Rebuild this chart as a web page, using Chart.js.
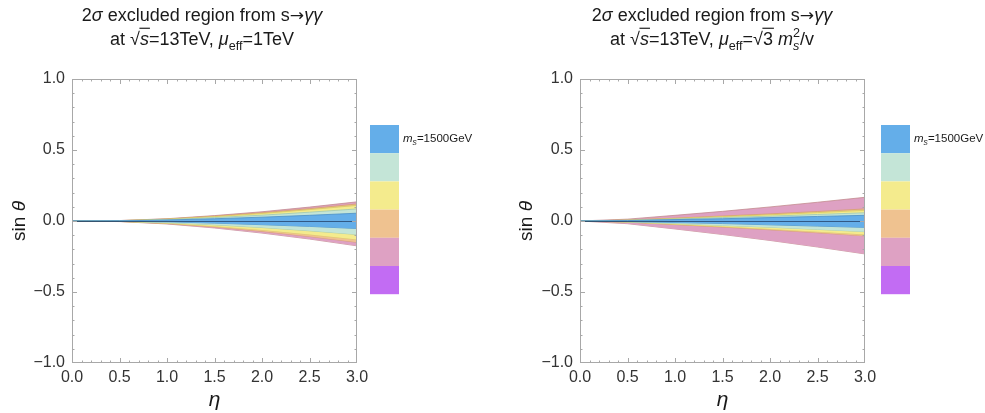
<!DOCTYPE html>
<html>
<head>
<meta charset="utf-8">
<script src="https://cdn.jsdelivr.net/npm/chart.js@4.4.1/dist/chart.umd.min.js"></script>
<style>
  html, body { margin: 0; padding: 0; background: #fff; }
  #wrap { position: relative; width: 985px; height: 413px; }
  canvas { position: absolute; top: 0; }
  #left { left: 0; }
  #right { left: 490px; }
</style>
</head>
<body>
<div id="wrap">
  <canvas id="left" width="490" height="413"></canvas>
  <canvas id="right" width="495" height="413"></canvas>
</div>
<script>
const eta = [0, 0.5, 1.0, 1.5, 2.0, 2.5, 3.0];
const xTicks = [0, 0.5, 1.0, 1.5, 2.0, 2.5, 3.0];
const yTicks = [-1.0, -0.5, 0.0, 0.5, 1.0];
const legendLabel = "1500GeV";

// mu_eff = 1 TeV : upper / lower edge of each excluded band
const fixBlueHi   = [0, 0.001, 0.007, 0.016, 0.027, 0.040, 0.055];
const fixBlueLo   = [0, -0.001, -0.006, -0.015, -0.026, -0.038, -0.053];
const fixMintHi   = [0, 0.002, 0.010, 0.024, 0.041, 0.062, 0.085];
const fixMintLo   = [0, -0.002, -0.012, -0.027, -0.046, -0.069, -0.095];
const fixYellowHi = [0, 0.002, 0.013, 0.031, 0.053, 0.080, 0.110];
const fixYellowLo = [0, -0.003, -0.016, -0.037, -0.063, -0.095, -0.130];
const fixOrangeHi = [0, 0.003, 0.014, 0.034, 0.058, 0.087, 0.120];
const fixOrangeLo = [0, -0.003, -0.018, -0.042, -0.073, -0.109, -0.150];
const fixPinkHi   = [0, 0.003, 0.016, 0.038, 0.065, 0.098, 0.135];
const fixPinkLo   = [0, -0.004, -0.021, -0.049, -0.085, -0.127, -0.175];

// mu_eff = sqrt(3) m_s^2 / v
const scaBlueHi   = [0, 0.003, 0.010, 0.016, 0.024, 0.032, 0.040];
const scaBlueLo   = [0, -0.004, -0.011, -0.018, -0.027, -0.036, -0.045];
const scaMintHi   = [0, 0.005, 0.014, 0.024, 0.034, 0.046, 0.058];
const scaMintLo   = [0, -0.006, -0.018, -0.031, -0.044, -0.059, -0.075];
const scaYellowHi = [0, 0.006, 0.018, 0.031, 0.044, 0.059, 0.075];
const scaYellowLo = [0, -0.008, -0.023, -0.039, -0.056, -0.075, -0.095];
const scaOrangeHi = [0, 0.007, 0.020, 0.035, 0.050, 0.067, 0.085];
const scaOrangeLo = [0, -0.008, -0.025, -0.043, -0.062, -0.083, -0.105];
const scaPinkHi   = [0, 0.013, 0.040, 0.068, 0.099, 0.132, 0.167];
const scaPinkLo   = [0, -0.019, -0.056, -0.095, -0.137, -0.183, -0.232];

const FONT = '"Liberation Sans", Arial, Helvetica, sans-serif';
const fills = ["#64aee9", "#c4e5d7", "#f4eb8d", "#efc290", "#dea1c3", "#c26cf3"];
const edges = ["#4a8fc6", "#9cc8b6", "#d8cb62", "#d5a06c", "#c38a8e", "#a050d0"];

// draws a line of text made of styled pieces (italic, sub/superscript, overline)
function drawRuns(ctx, runs, x, y, size, align, color) {
  const placed = [];
  let w = 0, lastX = 0;
  runs.forEach(r => {
    const s = size * (r.sc || 1);
    const font = (r.it ? "italic " : "") + s + "px " + (r.ff || FONT);
    ctx.font = font;
    const rw = ctx.measureText(r.t).width;
    const x0 = r.back ? lastX : w;
    placed.push({ r, s, font, x0, rw });
    lastX = x0;
    w = Math.max(w, x0 + rw);
  });
  const start = align === "center" ? x - w / 2 : x;
  ctx.fillStyle = color;
  ctx.strokeStyle = color;
  ctx.textBaseline = "alphabetic";
  ctx.textAlign = "left";
  placed.forEach(p => {
    ctx.font = p.font;
    ctx.fillText(p.r.t, start + p.x0, y + (p.r.dy || 0) * size);
    if (p.r.over) {
      const oy = y - size * 0.93;
      ctx.lineWidth = size * 0.065;
      ctx.beginPath();
      ctx.moveTo(start + p.x0 - 0.5, oy);
      ctx.lineTo(start + p.x0 + p.rw + 1, oy);
      ctx.stroke();
    }
  });
}

const decor = {
  id: "decor",
  afterDatasetsDraw(chart, args, o) {
    const { ctx, chartArea: a, scales: { x, y } } = chart;
    ctx.save();

    // sin(theta) = 0 axis
    const y0 = Math.round(y.getPixelForValue(0)) + 0.5;
    ctx.strokeStyle = "rgba(10,20,50,0.55)";
    ctx.lineWidth = 1;
    ctx.beginPath();
    ctx.moveTo(a.left, y0);
    ctx.lineTo(a.right, y0);
    ctx.stroke();

    // frame with inward ticks
    ctx.strokeStyle = "#a8a8a8";
    ctx.strokeRect(a.left + 0.5, a.top + 0.5, a.right - a.left - 1, a.bottom - a.top - 1);
    ctx.beginPath();
    for (let i = 1; i < 30; i++) {
      const px = Math.round(x.getPixelForValue(i / 10)) + 0.5;
      const len = i % 5 === 0 ? 5 : 2.5;
      ctx.moveTo(px, a.bottom); ctx.lineTo(px, a.bottom - len);
      ctx.moveTo(px, a.top); ctx.lineTo(px, a.top + len);
    }
    for (let i = -9; i < 10; i++) {
      const py = Math.round(y.getPixelForValue(i / 10)) + 0.5;
      const len = i % 5 === 0 ? 5 : 2.5;
      ctx.moveTo(a.left, py); ctx.lineTo(a.left + len, py);
      ctx.moveTo(a.right, py); ctx.lineTo(a.right - len, py);
    }
    ctx.stroke();

    // titles
    const cx = o.titleX;
    drawRuns(ctx, o.line1, cx, 21, 18, "center", "#1a1a1a");
    drawRuns(ctx, o.line2, cx, 45, 18, "center", "#1a1a1a");

    // axis titles
    const midX = (a.left + a.right) / 2;
    drawRuns(ctx, [{ t: "\u03b7", it: 1 }], midX, 406, 21, "center", "#1a1a1a");
    ctx.save();
    ctx.translate(o.yTitleX, (a.top + a.bottom) / 2);
    ctx.rotate(-Math.PI / 2);
    drawRuns(ctx, [{ t: "sin " }, { t: "\u03b8", it: 1 }], 0, 0, 19, "center", "#1a1a1a");
    ctx.restore();

    // mass legend
    const lx = a.right + o.legGap;
    fills.forEach((c, i) => {
      ctx.fillStyle = c;
      ctx.fillRect(lx, 125 + i * 28.2, 29, 28.2);
    });
    drawRuns(ctx, [
      { t: "m", it: 1 },
      { t: "s", it: 1, sc: 0.75, dy: 0.3 },
      { t: "=" + legendLabel }
    ], lx + 33, 142, 11.5, "left", "#1a1a1a");

    ctx.restore();
  }
};

function bandSets(bands) {
  const sets = [];
  bands.forEach((b, i) => {
    sets.push({
      data: eta.map((e, k) => ({ x: e, y: b[0][k] })),
      fill: "+1",
      backgroundColor: fills[i],
      borderColor: edges[i],
      borderWidth: 0.8,
      pointRadius: 0,
      tension: 0
    });
    sets.push({
      data: eta.map((e, k) => ({ x: e, y: b[1][k] })),
      fill: false,
      borderColor: edges[i],
      borderWidth: 0.8,
      pointRadius: 0,
      tension: 0
    });
  });
  return sets;
}

function makeChart(id, bands, pad, yWidth, deco) {
  const fmt = v => v.toFixed(1).replace("-", "\u2212");
  return new Chart(document.getElementById(id), {
    type: "line",
    data: { datasets: bandSets(bands) },
    options: {
      responsive: false,
      animation: false,
      layout: { padding: pad },
      plugins: { legend: { display: false }, tooltip: { enabled: false }, decor: deco },
      scales: {
        x: {
          type: "linear", min: 0, max: 3,
          afterBuildTicks: s => { s.ticks = xTicks.map(v => ({ value: v })); },
          afterFit: s => { s.height = 50; },
          grid: { display: false, drawTicks: false }, border: { display: false },
          ticks: { callback: fmt, padding: 5, color: "#333", autoSkip: false, maxRotation: 0,
                   font: { family: FONT, size: 16 } }
        },
        y: {
          min: -1, max: 1,
          afterBuildTicks: s => { s.ticks = yTicks.map(v => ({ value: v })); },
          afterFit: s => { s.width = yWidth; },
          grid: { display: false, drawTicks: false }, border: { display: false },
          ticks: { callback: fmt, padding: 7, color: "#333",
                   font: { family: FONT, size: 16 } }
        }
      }
    },
    plugins: [decor]
  });
}

const line1 = [
  { t: "2" }, { t: "\u03c3", it: 1 }, { t: " excluded region from s" },
  { t: "\u2192", ff: '"DejaVu Sans", sans-serif', sc: 0.95 }, { t: "\u03b3\u03b3", it: 1 }
];

makeChart("left", [
  [fixBlueHi, fixBlueLo], [fixMintHi, fixMintLo], [fixYellowHi, fixYellowLo],
  [fixOrangeHi, fixOrangeLo], [fixPinkHi, fixPinkLo]
], { top: 79, right: 133, bottom: 0, left: 0 }, 72, {
  titleX: 202, yTitleX: 25, legGap: 13, line1,
  line2: [
    { t: "at " }, { t: "\u221a" }, { t: "s", it: 1, over: 1 }, { t: "=13TeV, " },
    { t: "\u03bc", it: 1 }, { t: "eff", sc: 0.7, dy: 0.25 }, { t: "=1TeV" }
  ]
});

makeChart("right", [
  [scaBlueHi, scaBlueLo], [scaMintHi, scaMintLo], [scaYellowHi, scaYellowLo],
  [scaOrangeHi, scaOrangeLo], [scaPinkHi, scaPinkLo]
], { top: 79, right: 120, bottom: 0, left: 0 }, 90, {
  titleX: 222, yTitleX: 42, legGap: 16, line1,
  line2: [
    { t: "at " }, { t: "\u221a" }, { t: "s", it: 1, over: 1 }, { t: "=13TeV, " },
    { t: "\u03bc", it: 1 }, { t: "eff", sc: 0.7, dy: 0.25 }, { t: "=" },
    { t: "\u221a" }, { t: "3", over: 1 }, { t: " " }, { t: "m", it: 1 },
    { t: "s", it: 1, sc: 0.7, dy: 0.25 }, { t: "2", sc: 0.7, dy: -0.45, back: 1 }, { t: "/v" }
  ]
});
</script>
</body>
</html>
